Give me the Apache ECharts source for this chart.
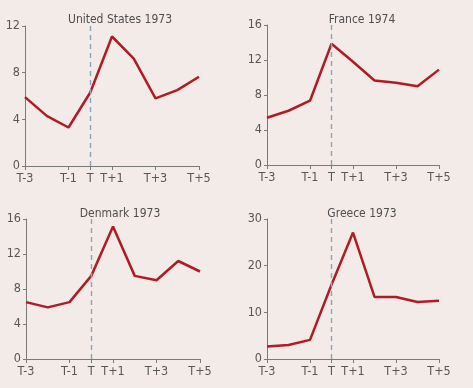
<!DOCTYPE html>
<html><head><meta charset="utf-8">
<script src="https://cdn.jsdelivr.net/npm/echarts@6/dist/echarts.min.js"></script>
<style>html,body{margin:0;padding:0;background:#f3ebe8;}#c{width:473px;height:388px;}</style>
</head><body><div id="c"></div>
<script>
const categories = ['T-3','T-2','T-1','T','T+1','T+2','T+3','T+4','T+5'];
const shownLabels = ['T-3','T-1','T','T+1','T+3','T+5'];
const titles = ['United States 1973','France 1974','Denmark 1973','Greece 1973'];
const usValues = [5.9, 4.3, 3.3, 6.3, 11.1, 9.2, 5.8, 6.5, 7.65];
const franceValues = [5.4, 6.2, 7.35, 13.85, 11.8, 9.65, 9.4, 9.0, 10.9];
const denmarkValues = [6.5, 5.9, 6.5, 9.5, 15.15, 9.5, 9.0, 11.2, 10.0];
const greeceValues = [2.7, 3.0, 4.1, 15.9, 27.1, 13.3, 13.3, 12.2, 12.5];
const yMax = [12, 16, 16, 30];
const yStep = [4, 4, 4, 10];
const seriesValues = [usValues, franceValues, denmarkValues, greeceValues];

const font = '"DejaVu Sans Condensed", sans-serif';
const txt = '#575757';
const axisCol = '#7a7a7a';
const grids = [
  {left: 25, top: 26, width: 174, height: 140},
  {left: 267, top: 25, width: 172, height: 140},
  {left: 26, top: 219, width: 174, height: 140},
  {left: 267, top: 219, width: 172, height: 140}
];
const titlePos = [[115, 9], [357, 9], [115, 203], [357, 203]];
const show = (i) => shownLabels.indexOf(categories[i]) >= 0;

const option = {
  backgroundColor: '#f3ebe8',
  animation: false,
  title: titles.map((t, i) => ({
    text: t, left: titlePos[i][0], top: titlePos[i][1], textAlign: 'center',
    textStyle: {fontFamily: font, fontSize: 12, fontWeight: 'normal', color: '#4e4e4e'}
  })),
  grid: grids.map(g => Object.assign({containLabel: false}, g)),
  xAxis: grids.map((g, i) => ({
    type: 'category', gridIndex: i, data: categories, boundaryGap: false,
    axisLine: {lineStyle: {color: axisCol, width: 1}},
    axisTick: {show: true, length: 4, interval: (idx) => show(idx), lineStyle: {color: axisCol}},
    axisLabel: {interval: (idx) => show(idx), fontFamily: font, fontSize: 12.5, color: txt, margin: 6},
    splitLine: {show: false}
  })),
  yAxis: grids.map((g, i) => ({
    type: 'value', gridIndex: i, min: 0, max: yMax[i], interval: yStep[i],
    axisLine: {show: true, lineStyle: {color: axisCol, width: 1}},
    axisTick: {show: true, length: 3, lineStyle: {color: axisCol}},
    axisLabel: {fontFamily: font, fontSize: 12.5, color: txt, margin: 5},
    splitLine: {show: false}
  })),
  series: seriesValues.map((vals, i) => ({
    type: 'line', xAxisIndex: i, yAxisIndex: i, data: vals,
    symbol: 'none', lineStyle: {color: '#b01c26', width: 2.5}, z: 3,
    markLine: {
      silent: true, symbol: 'none', label: {show: false},
      lineStyle: {color: '#8aa4b9', type: [5, 4], width: 1.4},
      data: [{xAxis: 'T'}]
    }
  }))
};
echarts.init(document.getElementById('c'), null, {renderer: 'canvas'}).setOption(option);
</script></body></html>
